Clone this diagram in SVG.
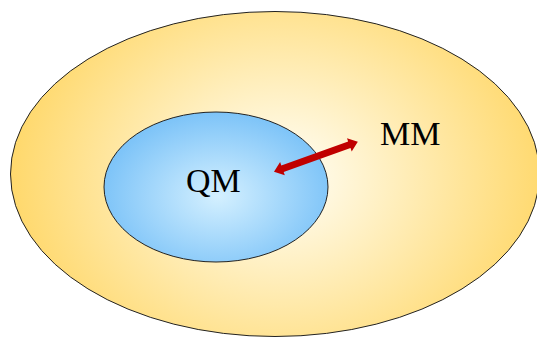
<svg xmlns="http://www.w3.org/2000/svg" width="537" height="338" viewBox="0 0 537 338">
<defs>
<radialGradient id="gOuter" gradientUnits="userSpaceOnUse" cx="280" cy="178" r="265" gradientTransform="translate(280 178) scale(1 0.84) translate(-280 -178)">
<stop offset="0" stop-color="#FFFFFA"/>
<stop offset="1" stop-color="#FFD96E"/>
</radialGradient>
<radialGradient id="gInner" gradientUnits="userSpaceOnUse" cx="218" cy="196" r="115" gradientTransform="translate(218 196) scale(1 0.72) translate(-218 -196)">
<stop offset="0" stop-color="#D4F0FF"/>
<stop offset="1" stop-color="#7EC4F8"/>
</radialGradient>
<style>
.shape{stroke:#222;stroke-width:1}
.lbl{font-family:"Liberation Serif","Times New Roman",serif;font-size:34px;fill:#000}
</style>
</defs>
<g id="mm">
<ellipse class="shape" cx="275" cy="174" rx="264.5" ry="162.5" fill="url(#gOuter)"/>
<text class="lbl" x="380" y="145">MM</text>
</g>
<g id="qm">
<ellipse class="shape" cx="216" cy="187" rx="112" ry="75" fill="url(#gInner)"/>
<text class="lbl" x="186" y="192">QM</text>
</g>
<g id="connectors">
<g transform="translate(274 171.7) rotate(-19.65)">
<polygon fill="#C00000" points="0,0 9,-7 9,-3.5 80,-3.5 80,-7 89,0 80,7 80,3.5 9,3.5 9,7"/>
</g>
</g>
</svg>
